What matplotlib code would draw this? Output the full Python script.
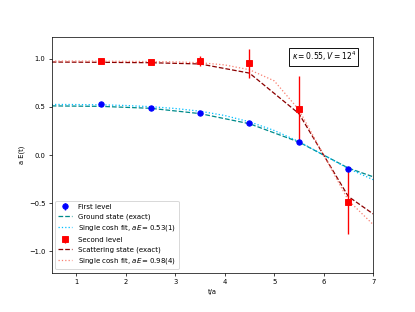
import matplotlib
matplotlib.use("Agg")
import matplotlib.pyplot as plt

plt.rcParams['font.size'] = 7.5

# Data points
t_pts = [1.5, 2.5, 3.5, 4.5, 5.5, 6.5]
first_level = [0.525, 0.49, 0.435, 0.33, 0.135, -0.14]
first_err = [0.008, 0.008, 0.01, 0.012, 0.015, 0.02]
second_level = [0.975, 0.965, 0.975, 0.95, 0.48, -0.49]
second_err = [0.02, 0.015, 0.05, 0.155, 0.34, 0.33]

# Curves
t_ground = [0.5, 1.5, 2.5, 3.5, 4.5, 5.5, 6.5, 7.0]
ground_exact = [0.51, 0.505, 0.485, 0.43, 0.325, 0.135, -0.135, -0.225]

t_fit = [0.5, 1.0, 1.5, 2.0, 2.5, 3.0, 3.5, 4.0, 4.5, 5.0, 5.5, 6.0, 6.5, 7.0]
ground_fit = [0.525, 0.524, 0.521, 0.514, 0.502, 0.483, 0.455, 0.41, 0.345, 0.255, 0.14, 0.0, -0.14, -0.255]
scatter_fit = [0.975, 0.975, 0.974, 0.972, 0.97, 0.966, 0.958, 0.935, 0.885, 0.77, 0.47, 0.0, -0.47, -0.72]

t_scat = [0.5, 1.5, 2.5, 3.5, 4.5, 5.5, 6.5, 7.0]
scatter_exact = [0.965, 0.962, 0.958, 0.945, 0.85, 0.43, -0.43, -0.61]

fig = plt.figure(figsize=(415/65, 312/65), dpi=65)
ax = fig.add_axes([0.1246, 0.126, 0.899 - 0.1246, 0.880 - 0.126])

h1 = ax.errorbar(t_pts, first_level, yerr=first_err, fmt='o', color='blue',
                 markersize=6, zorder=5)
h2, = ax.plot(t_ground, ground_exact, '--', color='darkcyan', lw=1.4)
h3, = ax.plot(t_fit, ground_fit, ':', color='deepskyblue', lw=1.4)
h4 = ax.errorbar(t_pts, second_level, yerr=second_err, fmt='s', color='red',
                 markersize=6, zorder=5)
h5, = ax.plot(t_scat, scatter_exact, '--', color='darkred', lw=1.4)
h6, = ax.plot(t_fit, scatter_fit, ':', color='salmon', lw=1.4)

ax.legend([h1, h2, h3, h4, h5, h6],
          ['First level', 'Ground state (exact)', 'Single cosh fit, $aE = 0.53(1)$',
           'Second level', 'Scattering state (exact)', 'Single cosh fit, $aE = 0.98(4)$'],
          loc='lower left', fontsize=7.8)

ax.set_xlim(0.5, 7)
ax.set_ylim(-1.22, 1.22)
ax.set_xticks([1, 2, 3, 4, 5, 6, 7])
ax.set_yticks([-1.0, -0.5, 0.0, 0.5, 1.0])
ax.set_xlabel('t/a')
ax.set_ylabel('a E(t)')

ax.text(0.946, 0.947, r'$\kappa = 0.55, V = 12^4$', transform=ax.transAxes,
        ha='right', va='top', fontsize=8.5,
        bbox=dict(boxstyle='square,pad=0.3', facecolor='white', edgecolor='black'))

fig.savefig('out.png', dpi=65)
